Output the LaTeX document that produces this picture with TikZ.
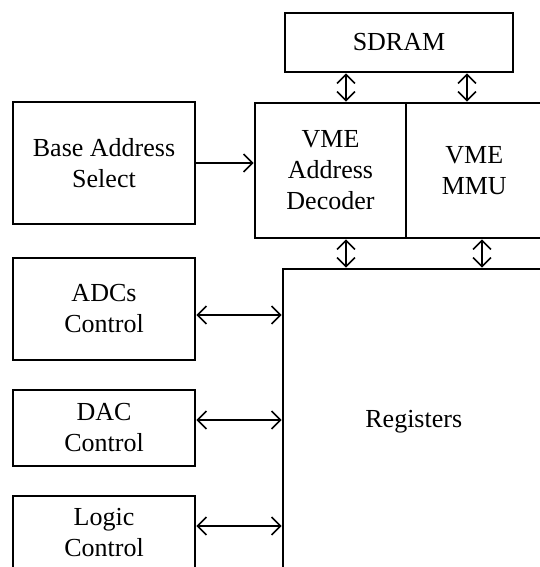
\documentclass[tikz,border=0pt]{standalone}
\usepackage{fontspec}
\setmainfont{Liberation Serif}
\usetikzlibrary{arrows.meta}

\tikzset{
  blk/.style={draw, line width=2.6pt, inner sep=0pt, align=center},
  barb/.tip={Straight Barb[length=9pt,width=18pt,line width=1.6pt]},
  link/.style={line width=1.3pt, barb-barb},
}

\begin{document}
\begin{tikzpicture}[x=1pt, y=-1pt, font=\fontsize{26}{31}\selectfont]
  \useasboundingbox (0,0) rectangle (540,567);
  \clip (0,0) rectangle (540,567);

  % Memory and VME blocks
  \node[blk, minimum width=228pt, minimum height=59pt] (sdram) at (399, 42.5) {SDRAM};
  \node[blk, minimum width=151pt, minimum height=135pt] (dec) at (330.5, 170.5) {VME\\Address\\Decoder};
  \node[blk, minimum width=136.5pt, minimum height=135pt] (mmu) at (474.25, 170.5) {VME\\MMU};
  \node[blk, minimum width=261.5pt, minimum height=306pt] (reg) at (413.75, 422) {Registers};

  % Control blocks
  \node[blk, minimum width=182pt, minimum height=122pt] (base) at (104, 163) {Base Address\\Select};
  \node[blk, minimum width=182pt, minimum height=102pt] (adc) at (104, 309) {ADCs\\Control};
  \node[blk, minimum width=182pt, minimum height=76pt] (dac) at (104, 428) {DAC\\Control};
  \node[blk, minimum width=182pt, minimum height=74pt] (logic) at (104, 533) {Logic\\Control};

  % Buses
  \draw[link] ([xshift=15.5pt]dec.north) -- ([xshift=15.5pt]dec.north |- sdram.south);
  \draw[link] ([xshift=-7.25pt]mmu.north) -- ([xshift=-7.25pt]mmu.north |- sdram.south);
  \draw[link] ([xshift=15.5pt]dec.south) -- ([xshift=15.5pt]dec.south |- reg.north);
  \draw[link] ([xshift=7.75pt]mmu.south) -- ([xshift=7.75pt]mmu.south |- reg.north);
  \draw[line width=1.3pt, -barb] (base.east) -- (base.east -| dec.west);
  \foreach \blkname/\ypos in {adc/315, dac/420, logic/526} {
    \draw[link] (\blkname.east |- 0,\ypos) -- (reg.west |- 0,\ypos);
  }
\end{tikzpicture}
\end{document}
